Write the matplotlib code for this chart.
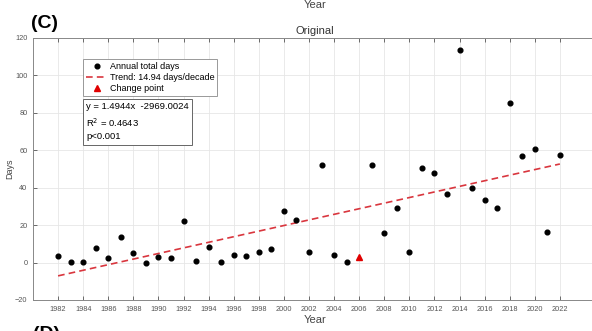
import matplotlib
matplotlib.use("Agg")
import matplotlib.pyplot as plt
import numpy as np

plt.rcParams['font.family'] = ['Liberation Sans', 'DejaVu Sans']

years = list(range(1982, 2023))
days = [3.5, 0.3, 0.3, 8.0, 2.7, 13.7, 5.0, 0.0, 3.2, 2.7,
        22.4, 1.0, 8.2, 0.2, 3.9, 3.7, 5.5, 7.1, 27.6, 23.0,
        5.9, 52.2, 4.3, 0.2, 3.2, 52.4, 16.0, 28.9, 5.5, 50.4,
        47.6, 36.9, 113.5, 40.1, 33.5, 29.2, 85.0, 56.8, 60.6, 16.4,
        57.7]
change_year = 2006
slope = 1.4944
intercept = -2969.0024
r2 = 0.4643
xticks = list(range(1982, 2023, 2))
yticks = [-20, 0, 20, 40, 60, 80, 100, 120]

W, H = 592, 331
fig = plt.figure(figsize=(W / 100, H / 100), dpi=100)
left_px, right_px, top_px, bot_px = 33, 597.5, 38, 300
ax = fig.add_axes([left_px / W, 1 - bot_px / H, (right_px - left_px) / W, (bot_px - top_px) / H])

yrs = np.array(years)
days_arr = np.array(days)
mask = yrs != change_year
ax.plot(yrs[mask], days_arr[mask], 'o', color='black', markersize=3.4, linestyle='none',
        label='Annual total days', zorder=3)
trend = slope * yrs + intercept
ax.plot(yrs, trend, '--', color='#d9363e', linewidth=1.2, dashes=(4, 2.5),
        label='Trend: 14.94 days/decade', zorder=2)
ci = years.index(change_year)
ax.plot([change_year], [days[ci]], '^', color='#e00000', markersize=5, linestyle='none',
        label='Change point', zorder=4)

ax.set_xlim(1980, 2025)
ax.set_ylim(-20, 120)
ax.set_xticks(xticks)
ax.set_yticks(yticks)
ax.tick_params(axis='both', labelsize=5.3, colors='#555555', direction='in', length=3,
               width=0.6, top=True, right=True, pad=4)
ax.grid(True, color='#e6e6e6', linewidth=0.6)
ax.set_axisbelow(True)
for s in ax.spines.values():
    s.set_color('#888888')
    s.set_linewidth(0.7)

ax.set_title('Original', fontsize=8, color='#333333', pad=3)
ax.set_xlabel('Year', fontsize=8, color='#444444', labelpad=2)
ax.set_ylabel('Days', fontsize=6.5, color='#444444')
ax.yaxis.set_label_coords(-19 / (right_px - left_px), 0.5)

leg = ax.legend(loc='upper left', bbox_to_anchor=(83 / W, 1 - 59 / H),
                bbox_transform=fig.transFigure, borderaxespad=0, fontsize=6.5,
                fancybox=False, edgecolor='#999999', framealpha=1,
                handlelength=2.3, handletextpad=0.3, labelspacing=0.2,
                borderpad=0.35)
leg.get_frame().set_linewidth(0.7)

fig.text(86 / W, 1 - 102 / H,
         'y = 1.4944x  -2969.0024\nR$^2$ = %.4f\np<0.001' % r2,
         fontsize=6.8, va='top', ha='left', linespacing=1.5,
         bbox=dict(boxstyle='square,pad=0.35', facecolor='white', edgecolor='#666666', linewidth=0.7))

fig.text(31 / W, 1 - 28 / H, '(C)', fontsize=14, fontweight='bold', ha='left', va='baseline')
fig.text(315 / W, 1 - 8 / H, 'Year', fontsize=8, color='#444444', ha='center', va='baseline')
fig.text(33 / W, 1 - 326 / H, '(D)', fontsize=14, fontweight='bold', ha='left', va='top')

fig.savefig('out.png', dpi=100)
